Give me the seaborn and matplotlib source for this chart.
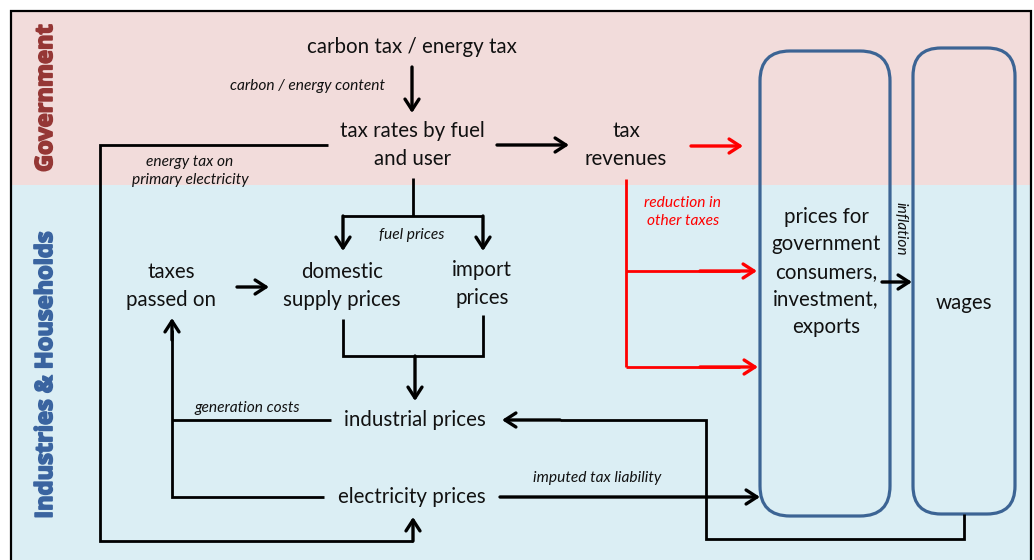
import matplotlib
matplotlib.use("Agg")
import matplotlib.pyplot as plt
import matplotlib.patheffects as pe
from matplotlib.patches import Rectangle, FancyBboxPatch
import seaborn as sns

sns.set_theme(style="white")
plt.rcParams['font.family'] = ['Lato', 'DejaVu Sans']

# ---- diagram content ----
section_labels = ["Government", "Industries & Households"]
node_labels = [
    "carbon tax / energy tax",
    "tax rates by fuel\nand user",
    "tax\nrevenues",
    "taxes\npassed on",
    "domestic\nsupply prices",
    "import\nprices",
    "industrial prices",
    "electricity prices",
    "prices for\ngovernment\nconsumers,\ninvestment,\nexports",
    "wages",
]
edge_labels = [
    "carbon / energy content",
    "energy tax on\nprimary electricity",
    "fuel prices",
    "generation costs",
    "imputed tax liability",
    "reduction in\nother taxes",
    "inflation",
]

# ---- layout (pixel space) ----
W, H = 1034, 560
fig = plt.figure(figsize=(W / 100, H / 100), dpi=100)
ax = fig.add_axes([0, 0, 1, 1])
ax.set_xlim(0, W)
ax.set_ylim(H, 0)
ax.axis('off')

PINK = "#F2DCDB"
BLUE = "#DBEEF4"
GOV = "#953735"
IND = "#3A64A0"
BOXC = "#3C6494"
RED = "#FF0000"

ax.add_patch(Rectangle((11, 11), 1020, 174, facecolor=PINK, edgecolor='none', zorder=0))
ax.add_patch(Rectangle((11, 185), 1020, 380, facecolor=BLUE, edgecolor='none', zorder=0))
ax.plot([11, 11, 1031, 1031], [565, 11, 11, 565], color='black', lw=1.6, zorder=1,
        solid_joinstyle='miter')

for lab, y, c in zip(section_labels, [98, 375], [GOV, IND]):
    ax.text(46, y, lab, rotation=90, ha='center', va='center',
            fontsize=17, fontweight='bold', color=c, family=['Open Sans', 'DejaVu Sans'],
            path_effects=[pe.withStroke(linewidth=1.3, foreground=c)])

# rounded boxes
ax.add_patch(FancyBboxPatch((760, 51), 130, 465,
                            boxstyle="round,pad=0,rounding_size=30",
                            facecolor='none', edgecolor=BOXC, lw=2.3, zorder=2))
ax.add_patch(FancyBboxPatch((913, 48), 102, 466,
                            boxstyle="round,pad=0,rounding_size=28",
                            facecolor='none', edgecolor=BOXC, lw=2.3, zorder=2))

node_pos = [(412, 47), (412, 145), (626, 145), (171, 286), (342, 286), (482, 284),
            (415, 420), (412, 497), (826, 272), (964, 303)]
for lab, (x, y) in zip(node_labels, node_pos):
    ax.text(x, y, lab, ha='center', va='center', fontsize=14.8, color='#111111',
            linespacing=1.47)

edge_pos = [(308, 86), (190, 171), (412, 235), (247, 408), (597, 478), (683, 212), (900, 229)]
edge_cols = ['#111111'] * 5 + [RED, '#111111']
edge_rot = [0, 0, 0, 0, 0, 0, -90]
for lab, (x, y), c, r in zip(edge_labels, edge_pos, edge_cols, edge_rot):
    ax.text(x, y, lab, ha='center', va='center', fontsize=11.2, style='italic',
            color=c, rotation=r, linespacing=1.45)

LW = 2.0
AS = '->,head_length=0.65,head_width=0.42'


def poly(xs, ys, color='black'):
    ax.plot(xs, ys, color=color, lw=LW, solid_joinstyle='miter',
            solid_capstyle='butt', zorder=3)


def arrow(x0, y0, x1, y1, color='black'):
    ax.annotate('', xy=(x1, y1), xytext=(x0, y0),
                arrowprops=dict(arrowstyle=AS, lw=LW + 0.4, color=color,
                                shrinkA=0, shrinkB=0), zorder=4)


# carbon tax -> tax rates
arrow(412, 67, 412, 113)
# tax rates -> tax revenues
arrow(497, 145, 569, 145)
# tax revenues -> prices (red)
arrow(691, 146, 743, 146, RED)
# primary electricity loop
poly([328, 100, 100, 413], [145, 145, 541, 541])
arrow(413, 541, 413, 517)
# fuel prices split
poly([413, 413], [178, 216])
poly([343, 483], [216, 216])
arrow(343, 216, 343, 251)
arrow(483, 216, 483, 251)
# taxes passed on -> domestic
arrow(237, 287, 269, 287)
# domestic/import -> industrial
poly([343, 343, 483, 483], [319, 356, 356, 315])
arrow(415, 356, 415, 401)
# generation costs
poly([331, 172], [420, 420])
poly([324, 172, 172], [497, 497, 330])
arrow(172, 340, 172, 318)
# red reduction in other taxes
poly([626, 626], [179, 367], RED)
poly([626, 740], [271, 271], RED)
poly([626, 740], [367, 367], RED)
arrow(700, 271, 757, 271, RED)
arrow(700, 367, 758, 367, RED)
# electricity -> prices (imputed tax liability)
arrow(500, 497, 760, 497)
# wages -> industrial prices
poly([964, 964, 706, 706, 560], [514, 539, 539, 420, 420])
arrow(560, 420, 502, 420)
# inflation
arrow(882, 282, 912, 282)

fig.savefig("out.png", dpi=100)
